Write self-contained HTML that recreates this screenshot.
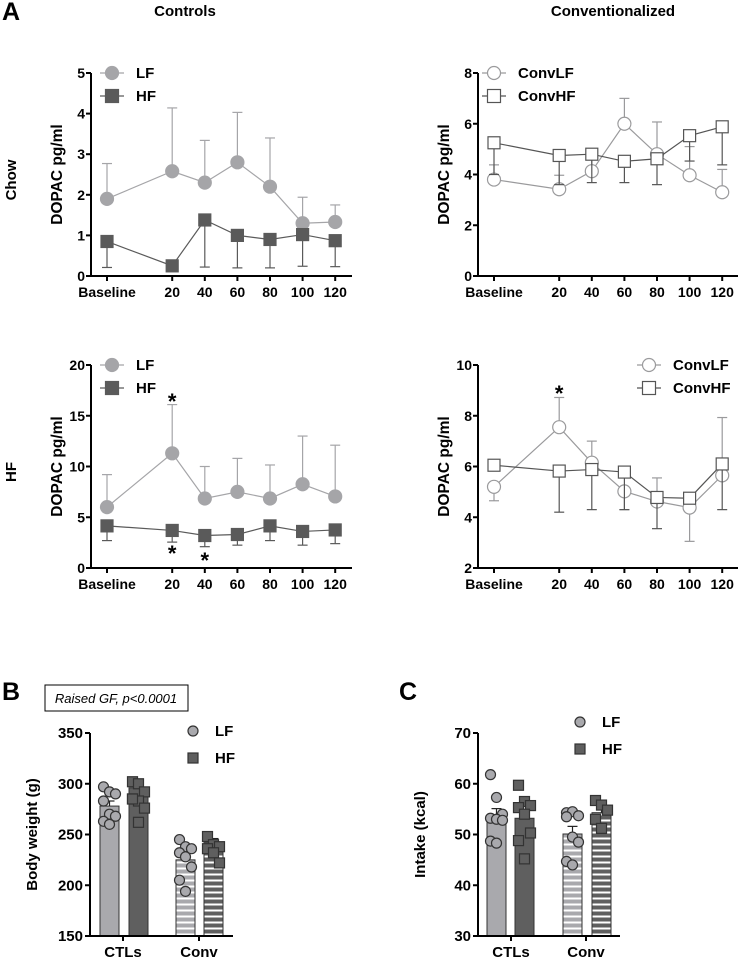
<!DOCTYPE html>
<html><head><meta charset="utf-8"><style>
body{margin:0;background:#fff;}
svg{display:block;font-family:"Liberation Sans",Arial,sans-serif;font-weight:bold;}
</style></head><body>
<svg id="fig" width="739" height="962" viewBox="0 0 739 962">
<defs>
<pattern id="stripeL" width="10" height="6" patternUnits="userSpaceOnUse"><rect width="10" height="6" fill="#a9a9ad"/><rect y="3.5" width="10" height="2" fill="#fff"/></pattern>
<pattern id="stripeH" width="10" height="6" patternUnits="userSpaceOnUse"><rect width="10" height="6" fill="#5f5f5f"/><rect y="3.5" width="10" height="2" fill="#fff"/></pattern>
</defs>
<text x="2" y="20" font-size="25">A</text>
<text x="185" y="16" font-size="15" text-anchor="middle">Controls</text>
<text x="613" y="16" font-size="15" text-anchor="middle">Conventionalized</text>
<text transform="translate(16,180) rotate(-90)" font-size="15" text-anchor="middle">Chow</text>
<text transform="translate(16,472) rotate(-90)" font-size="15" text-anchor="middle">HF</text>
<text x="2" y="700" font-size="25">B</text>
<text x="399" y="700" font-size="25">C</text>
<rect x="45" y="685" width="143" height="26" fill="#fff" stroke="#000" stroke-width="1"/>
<text x="116" y="703" font-size="13" font-style="italic" font-weight="normal" text-anchor="middle">Raised GF, p&lt;0.0001</text>
</svg>
<script>
// ---- Line chart data ----
const timeLabels = ["Baseline","20","40","60","80","100","120"];
const timeSlots = [0,2,3,4,5,6,7];
// A1 Chow controls
const chowLF = [1.9,2.58,2.3,2.8,2.2,1.3,1.33];
const chowLFerr = [2.77,4.14,3.34,4.03,3.4,1.94,1.75];
const chowHF = [0.85,0.25,1.38,1.0,0.9,1.02,0.87];
const chowHFerr = [0.21,0.25,0.22,0.2,0.2,0.24,0.23];
const chowTicks = [0,1,2,3,4,5];
// A2 Chow conv
const convChowLF = [3.8,3.42,4.13,6.0,4.8,3.97,3.3];
const convChowLFerr = [4.38,3.97,4.8,7.0,6.07,5.1,4.2];
const convChowHF = [5.25,4.75,4.8,4.52,4.62,5.53,5.88];
const convChowHFerr = [4.0,3.6,3.68,3.68,3.6,4.53,4.38];
const convChowTicks = [0,2,4,6,8];
// A3 HF controls
const hfLF = [6.0,11.3,6.85,7.5,6.85,8.25,7.05];
const hfLFerr = [9.2,16.1,10.0,10.8,10.15,13.0,12.1];
const hfHF = [4.15,3.7,3.2,3.3,4.15,3.6,3.75];
const hfHFerr = [2.7,2.55,2.1,2.25,2.7,2.25,2.4];
const hfTicks = [0,5,10,15,20];
// A4 HF conv
const convHfLF = [5.2,7.55,6.15,5.02,4.62,4.38,5.65];
const convHfLFerr = [4.65,8.72,7.0,4.3,5.55,3.05,7.93];
const convHfHF = [6.05,5.82,5.88,5.78,4.78,4.75,6.1];
const convHfHFerr = [6.05,4.2,4.3,4.3,3.55,4.95,4.3];
const convHfTicks = [2,4,6,8,10];
// ---- Bar chart data ----
const groups = ["CTLs","Conv"];
const bwMeans = [278,296,225,242];
const bwErr = [283,300,230,246];
const bwTicks = [150,200,250,300,350];
const bwPts = [[297,292,290,283,270,268,263,260],[302,300,292,285,283,276,285,262],[245,238,236,232,228,218,205,194],[248,240,238,236,232,222]];
const inMeans = [53.3,53.2,50.1,54.3];
const inErr = [55.1,54.8,51.6,55.6];
const inTicks = [30,40,50,60,70];
const inPts = [[61.8,57.3,54,53.2,53,52.8,48.7,48.3],[59.7,56.5,55.7,55.3,54,50.3,48.8,45.2],[54.3,54.5,53.7,53.5,49.5,48.5,44.7,44],[56.7,55.8,54.8,53,51.2]];

const NS="http://www.w3.org/2000/svg";
const svg=document.getElementById('fig');
function mk(tag,attrs,parent){const e=document.createElementNS(NS,tag);for(const k in attrs)e.setAttribute(k,attrs[k]);(parent||svg).appendChild(e);return e;}

const LIGHT="#a5a5a8", DARK="#5a5a5a";
function marker(g,type,x,y,fill,stroke,r){
  let e;
  if(type==='circle') e=mk('circle',{cx:x,cy:y,r:r,fill:fill,stroke:stroke,'stroke-width':1.2},g);
  else e=mk('rect',{x:x-r,y:y-r,width:2*r,height:2*r,fill:fill,stroke:stroke,'stroke-width':1.2},g);
  return e;
}
function lineChart(o){
  const g=mk('g',{});
  
  
  const ys=v=>o.y0-(v-o.vmin)/(o.vmax-o.vmin)*(o.y0-o.y1);
  const xs=i=>o.xStart+timeSlots[i]*o.slot;
  mk('line',{x1:o.ax,y1:o.y1,x2:o.ax,y2:o.y0,stroke:'#000','stroke-width':2},g);
  mk('line',{x1:o.ax,y1:o.y0,x2:o.axEnd,y2:o.y0,stroke:'#000','stroke-width':2},g);
  o.ticks.forEach(t=>{
    mk('line',{x1:o.ax-5,y1:ys(t),x2:o.ax,y2:ys(t),stroke:'#000','stroke-width':2},g);
    const tx=mk('text',{x:o.ax-6,y:ys(t)+5,'font-size':14,'text-anchor':'end'},g);
    tx.textContent=t;
    
    
  });
  timeLabels.forEach((l,i)=>{
    mk('line',{x1:xs(i),y1:o.y0,x2:xs(i),y2:o.y0+5,stroke:'#000','stroke-width':2},g);
    const tx=mk('text',{x:xs(i),y:o.y0+21,'font-size':14,'text-anchor':'middle'},g);
    tx.textContent=l;
    
    
  });
  const yt=mk('text',{transform:`translate(${o.ax-29},${(o.y0+o.y1)/2}) rotate(-90)`,'font-size':15.5,'text-anchor':'middle'},g);
  yt.textContent='DOPAC pg/ml';
  
  
  o.series.forEach(s=>{
    const sg=mk('g',{},g);
    
    
    s.vals.forEach((v,i)=>{
      const e=s.err[i]; if(Math.abs(e-v)<0.01) return;
      const x=xs(i);
      mk('line',{x1:x,y1:ys(v),x2:x,y2:ys(e),stroke:s.stroke,'stroke-width':1.2},sg);
      mk('line',{x1:x-5,y1:ys(e),x2:x+5,y2:ys(e),stroke:s.stroke,'stroke-width':1.2},sg);
    });
    mk('polyline',{points:s.vals.map((v,i)=>xs(i)+','+ys(v)).join(' '),fill:'none',stroke:s.stroke,'stroke-width':1.2},sg);
    s.vals.forEach((v,i)=>{
      const m=marker(sg,s.type,xs(i),ys(v),s.fill,s.stroke,s.type==='circle'?6.5:6);
      
      
    });
  });
  o.series.forEach((s,k)=>{
    const lg=mk('g',{},g);
    
    
    const ly=o.legY+k*23;
    mk('line',{x1:o.legX-12,y1:ly,x2:o.legX+12,y2:ly,stroke:s.stroke,'stroke-width':1.2},lg);
    marker(lg,s.type,o.legX,ly,s.fill,s.stroke,6.5);
    const t=mk('text',{x:o.legX+24,y:ly+5,'font-size':15},lg);
    t.textContent=s.label;
  });
  (o.stars||[]).forEach(st=>{
    const t=mk('text',{x:xs(st[0]),y:st[1],'font-size':22,'text-anchor':'middle'},g);
    t.textContent='*';
    
    
  });
}
const L={type:'circle',fill:LIGHT,stroke:LIGHT}, H={type:'square',fill:DARK,stroke:DARK};
const CL={type:'circle',fill:'#fff',stroke:'#9a9a9c'}, CH={type:'square',fill:'#fff',stroke:'#555'};
lineChart({name:'chow-controls-chart',ax:91,axEnd:352,y0:276,y1:73,vmin:0,vmax:5,ticks:chowTicks,xStart:107,slot:32.6,legX:112,legY:73,
  series:[Object.assign({name:'lf-series',label:'LF',vals:chowLF,err:chowLFerr},L),Object.assign({name:'hf-series',label:'HF',vals:chowHF,err:chowHFerr},H)]});
lineChart({name:'chow-conv-chart',ax:478,axEnd:738,y0:276,y1:73,vmin:0,vmax:8,ticks:convChowTicks,xStart:494,slot:32.6,legX:494,legY:73,
  series:[Object.assign({name:'convlf-series',label:'ConvLF',vals:convChowLF,err:convChowLFerr},CL),Object.assign({name:'convhf-series',label:'ConvHF',vals:convChowHF,err:convChowHFerr},CH)]});
lineChart({name:'hf-controls-chart',ax:91,axEnd:352,y0:568,y1:365,vmin:0,vmax:20,ticks:hfTicks,xStart:107,slot:32.6,legX:112,legY:365,
  stars:[[1,409],[1,561],[2,568]],
  series:[Object.assign({name:'lf-series',label:'LF',vals:hfLF,err:hfLFerr},L),Object.assign({name:'hf-series',label:'HF',vals:hfHF,err:hfHFerr},H)]});
lineChart({name:'hf-conv-chart',ax:478,axEnd:738,y0:568,y1:365,vmin:2,vmax:10,ticks:convHfTicks,xStart:494,slot:32.6,legX:649,legY:365,
  stars:[[1,401]],
  series:[Object.assign({name:'convlf-series',label:'ConvLF',vals:convHfLF,err:convHfLFerr},CL),Object.assign({name:'convhf-series',label:'ConvHF',vals:convHfHF,err:convHfHFerr},CH)]});

function barChart(o){
  const g=mk('g',{});
  
  
  const ys=v=>o.y0-(v-o.vmin)/(o.vmax-o.vmin)*(o.y0-o.y1);
  mk('line',{x1:o.ax,y1:o.y1,x2:o.ax,y2:o.y0,stroke:'#000','stroke-width':2},g);
  o.ticks.forEach(t=>{
    mk('line',{x1:o.ax-5,y1:ys(t),x2:o.ax,y2:ys(t),stroke:'#000','stroke-width':2},g);
    const tx=mk('text',{x:o.ax-7,y:ys(t)+5,'font-size':15,'text-anchor':'end'},g);
    tx.textContent=t;
    
    
  });
  const fills=['#a9a9ad','#5f5f5f','url(#stripeL)','url(#stripeH)'];
  const bw=19;
  o.means.forEach((m,i)=>{
    const x=o.barX[i];
    const b=mk('rect',{x:x,y:ys(m),width:bw,height:o.y0-ys(m),fill:fills[i],stroke:'#333','stroke-width':1},g);
    
    
    const cx=x+bw/2;
    mk('line',{x1:cx,y1:ys(m),x2:cx,y2:ys(o.err[i]),stroke:'#222','stroke-width':1.2},g);
    mk('line',{x1:cx-5,y1:ys(o.err[i]),x2:cx+5,y2:ys(o.err[i]),stroke:'#222','stroke-width':1.2},g);
    o.pts[i].forEach((p,k)=>{
      const dx=((k%3)-1)*6;
      const mm=marker(g,i%2?'square':'circle',cx+dx,ys(p),i%2?'#5f5f5f':'#a9a9ad','#333',5);
      
      
    });
  });
  mk('line',{x1:o.ax,y1:o.y0,x2:o.axEnd,y2:o.y0,stroke:'#000','stroke-width':2},g);
  groups.forEach((gname,i)=>{
    mk('line',{x1:o.gx[i],y1:o.y0,x2:o.gx[i],y2:o.y0+5,stroke:'#000','stroke-width':2},g);
    const t=mk('text',{x:o.gx[i],y:o.y0+21,'font-size':15,'text-anchor':'middle'},g);
    t.textContent=gname;
    
    
  });
  const yt=mk('text',{transform:`translate(${o.ax-53},${(o.y0+o.y1)/2}) rotate(-90)`,'font-size':15,'text-anchor':'middle'},g);
  yt.textContent=o.title;
  
  
  ['LF','HF'].forEach((l,k)=>{
    const lg=mk('g',{},g);
    
    
    const ly=o.legY+k*27;
    marker(lg,k?'square':'circle',o.legX,ly,k?'#5f5f5f':'#a9a9ad','#333',5);
    const t=mk('text',{x:o.legX+22,y:ly+5,'font-size':15},lg);
    t.textContent=l;
  });
}
barChart({name:'body-weight-chart',ax:90,axEnd:233,y0:936,y1:733,vmin:150,vmax:350,ticks:bwTicks,means:bwMeans,err:bwErr,pts:bwPts,
  barX:[100,129,176,204],gx:[123,199],title:'Body weight (g)',legX:193,legY:731});
barChart({name:'intake-chart',ax:478,axEnd:620,y0:936,y1:733,vmin:30,vmax:70,ticks:inTicks,means:inMeans,err:inErr,pts:inPts,
  barX:[487,515,563,592],gx:[511,586],title:'Intake (kcal)',legX:580,legY:722});
</script>
</body></html>
